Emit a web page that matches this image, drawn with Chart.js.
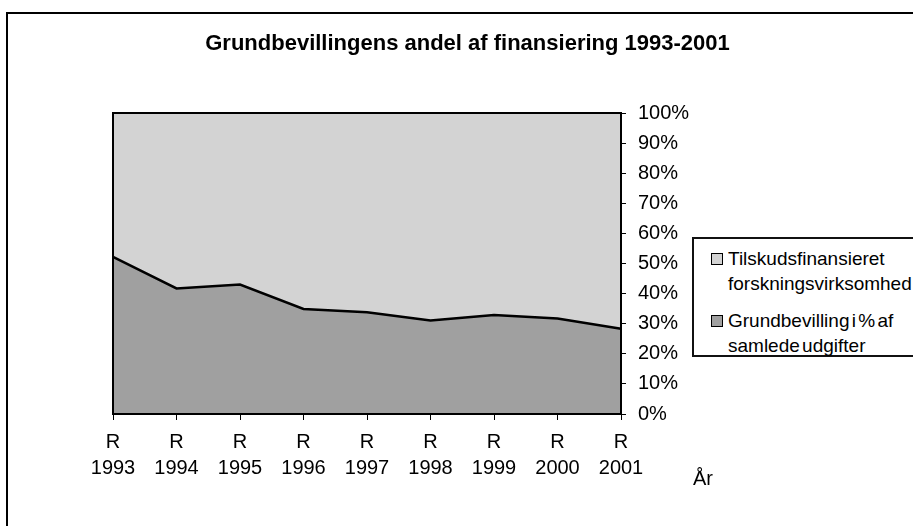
<!DOCTYPE html>
<html lang="da">
<head>
  <meta charset="UTF-8">
  <title>Grundbevillingens andel af finansiering 1993-2001</title>
  <script src="https://cdn.jsdelivr.net/npm/chart.js"></script>
  <style>
    body {
      margin: 0;
      background: #fff;
      font-family: "Liberation Sans", Arial, sans-serif;
    }

    #wrap {
      position: relative;
      width: 913px;
      height: 526px;
      overflow: hidden;
    }

    /* ramme om hele diagrammet (skåret af i højre og nederste kant) */
    #frame {
      position: absolute;
      left: 6px;
      top: 12px;
      width: 1000px;
      height: 1000px;
      border: 2px solid #000;
    }

    canvas {
      position: absolute;
      left: 0;
      top: 0;
    }

    #legend {
      position: absolute;
      left: 692px;
      top: 237px;
      width: 260px;
      height: 120px;
      box-sizing: border-box;
      border: 2px solid #111;
      background: #fff;
      padding-top: 7px;
    }

    .item {
      display: flex;
      align-items: flex-start;
      margin-bottom: 12px;
    }

    .box {
      width: 10px;
      height: 10px;
      border: 1px solid #000;
      margin-left: 17px;
      margin-top: 7px;
      flex: none;
    }

    .txt {
      width: 180px;
      margin-left: 5px;
      font-size: 19px;
      line-height: 25px;
      word-spacing: -3px;
      white-space: normal;
    }

    #xtitle {
      position: absolute;
      left: 693px;
      top: 466px;
      font-size: 20px;
      line-height: 24px;
    }
  </style>
</head>
<body>

  <div id="wrap">
    <div id="frame"></div>
    <canvas id="areaChart" width="913" height="526"></canvas>
    <div id="legend"></div>
    <div id="xtitle">År</div>
  </div>

  <script>
    const years = ['1993', '1994', '1995', '1996', '1997', '1998', '1999', '2000', '2001'];
    const prefix = 'R';

    // andele i procent
    const grundbevilling = [52.2, 41.7, 43.0, 34.9, 33.8, 31.1, 32.9, 31.7, 28.3];
    const tilskud = [47.8, 58.3, 57.0, 65.1, 66.2, 68.9, 67.1, 68.3, 71.7];

    const seriesNames = [
      'Grundbevilling i % af samlede udgifter',
      'Tilskudsfinansieret forskningsvirksomhed'
    ];
    const seriesColors = ['#a0a0a0', '#d3d3d3'];

    const yTicks = [0, 10, 20, 30, 40, 50, 60, 70, 80, 90, 100];

    // sort ramme om plotområdet
    const plotBorder = {
      id: 'plotBorder',
      afterDatasetsDraw(chart) {
        const a = chart.chartArea;
        const ctx = chart.ctx;
        ctx.save();
        ctx.strokeStyle = '#000';
        ctx.lineWidth = 2;
        ctx.strokeRect(a.left, a.top, a.right - a.left, a.bottom - a.top);
        ctx.restore();
      }
    };

    const ctx = document.getElementById('areaChart').getContext('2d');

    new Chart(ctx, {
      type: 'line',
      data: {
        labels: years.map(y => [prefix, y]),
        datasets: [
          {
            label: seriesNames[0],
            data: grundbevilling,
            backgroundColor: seriesColors[0],
            borderColor: '#000',
            borderWidth: 2.5,
            fill: 'origin',
            pointRadius: 0,
            tension: 0
          },
          {
            label: seriesNames[1],
            data: tilskud,
            backgroundColor: seriesColors[1],
            borderColor: '#000',
            borderWidth: 0,
            fill: '-1',
            pointRadius: 0,
            tension: 0
          }
        ]
      },
      options: {
        responsive: false,
        animation: false,
        layout: {
          padding: { left: 113, right: 91, top: 0, bottom: 52 }
        },
        plugins: {
          legend: { display: false },
          tooltip: { enabled: false },
          title: {
            display: true,
            text: 'Grundbevillingens andel af finansiering 1993-2001',
            color: '#000',
            font: { family: '"Liberation Sans", Arial, sans-serif', size: 22, weight: 'bold', lineHeight: 1.2 },
            padding: { top: 31, bottom: 55.6 }
          }
        },
        scales: {
          x: {
            offset: false,
            grid: {
              display: true,
              drawOnChartArea: false,
              tickLength: 6,
              color: '#000',
              lineWidth: 1
            },
            border: { display: true, color: '#000', width: 2 },
            ticks: {
              color: '#000',
              autoSkip: false,
              maxRotation: 0,
              padding: 9,
              font: { family: '"Liberation Sans", Arial, sans-serif', size: 20, lineHeight: 1.3 }
            },
            afterFit(scale) { scale.height = 60; }
          },
          y: {
            position: 'right',
            stacked: true,
            min: 0,
            max: 100,
            afterBuildTicks(scale) {
              scale.ticks = yTicks.map(v => ({ value: v }));
            },
            grid: {
              display: true,
              drawOnChartArea: false,
              tickLength: 5,
              color: '#000',
              lineWidth: 1
            },
            border: { display: true, color: '#000', width: 2 },
            ticks: {
              color: '#000',
              padding: 12,
              callback: v => v + '%',
              font: { family: '"Liberation Sans", Arial, sans-serif', size: 20 }
            },
            afterFit(scale) { scale.width = 201; }
          }
        }
      },
      plugins: [plotBorder]
    });

    // forklaring: tilskud øverst, grundbevilling nederst
    const legend = document.getElementById('legend');
    [1, 0].forEach(i => {
      const item = document.createElement('div');
      item.className = 'item';
      const box = document.createElement('div');
      box.className = 'box';
      box.style.background = seriesColors[i];
      const txt = document.createElement('div');
      txt.className = 'txt';
      txt.textContent = seriesNames[i];
      item.appendChild(box);
      item.appendChild(txt);
      legend.appendChild(item);
    });
  </script>

</body>
</html>
